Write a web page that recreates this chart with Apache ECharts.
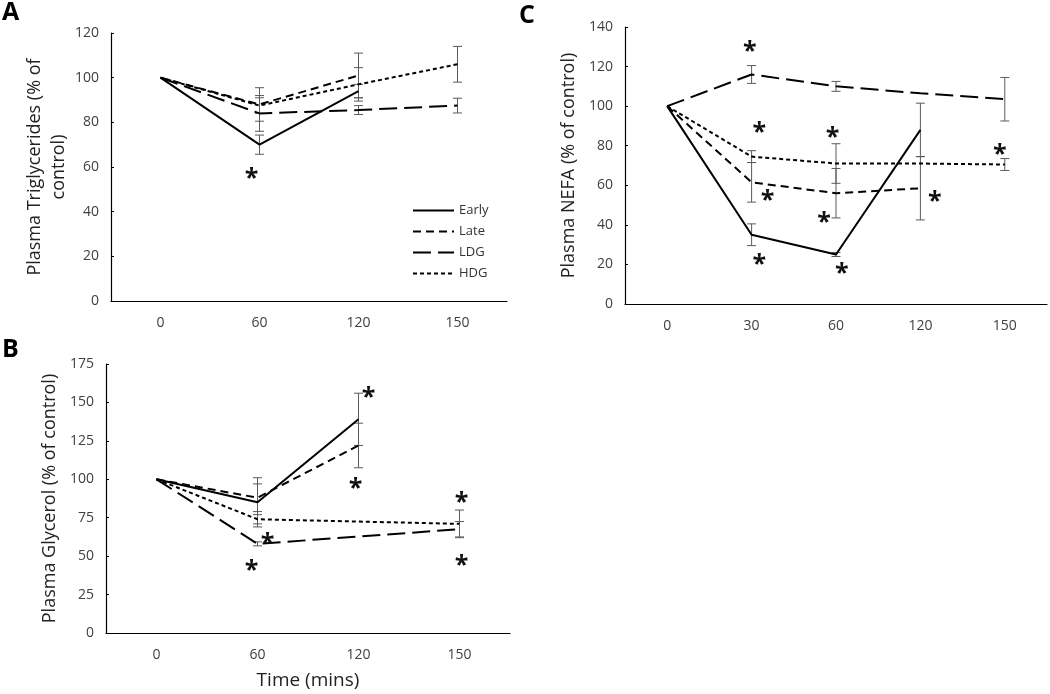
<!DOCTYPE html>
<html><head><meta charset="utf-8">
<script src="https://cdn.jsdelivr.net/npm/echarts@6/dist/echarts.min.js"></script>
<style>html,body{margin:0;background:#fff}#c{width:1050px;height:694px}</style>
</head><body><div id="c"></div>
<script>
// ---------- DATA ----------
const seriesNames = ['Early', 'Late', 'LDG', 'HDG'];

// Panel A: Plasma Triglycerides
const catsA = ['0', '60', '120', '150'];
const trigEarly = [100, 70, 94, null];
const trigLate  = [100, 88, 101, null];
const trigLDG   = [100, 84, 85.5, 87.5];
const trigHDG   = [100, 87.5, 97, 106];
const trigEarlyErr = [null, 4.3, 3, null];
const trigLateErr  = [null, 7.5, 10, null];
const trigLDGErr   = [null, 8, 2, 3.3];
const trigHDGErr   = [null, 3.5, 7.5, 8];
const trigStars = [[0.92, 57]];

// Panel B: Plasma Glycerol
const catsB = ['0', '60', '120', '150'];
const glyEarly = [100, 85, 139, null];
const glyLate  = [100, 88, 122, null];
const glyLDG   = [100, 58, null, 67.5];
const glyHDG   = [100, 74, null, 71];
const glyEarlyErr = [null, 16, 17, null];
const glyLateErr  = [null, 9, 14.5, null];
const glyLDGErr   = [null, 1.3, null, 5];
const glyHDGErr   = [null, 3, null, 9];
const glyStars = [[2.10, 156], [1.97, 97], [3.02, 88], [3.02, 47], [1.10, 61], [0.94, 43.6]];

// Panel C: Plasma NEFA
const catsC = ['0', '30', '60', '120', '150'];
const nefaEarly = [100, 35, 25, 88, null];
const nefaLate  = [100, 61.5, 56, 58.5, null];
const nefaLDG   = [100, 116, 110, 106.5, 103.5];
const nefaHDG   = [100, 74.5, 71, 71, 70.5];
const nefaEarlyErr = [null, 5.5, 1, 13.5, null];
const nefaLateErr  = [null, 10, 12.5, 16, null];
const nefaLDGErr   = [null, 4.5, 2.5, null, 11];
const nefaHDGErr   = [null, 3, 10, null, 3];
const nefaStars = [[0.98, 130.2], [1.09, 88.9], [1.96, 86.4], [1.19, 54.4], [1.86, 43.4],
                   [1.09, 22.4], [2.07, 17.7], [3.17, 54.1], [3.94, 78]];

// ---------- STYLES ----------
const FONT = 'Open Sans';
const dashes = { Early: 'solid', Late: [8, 5], LDG: [18, 7], HDG: [4, 3] };

const panels = [
  { cats: catsA, vals: [trigEarly, trigLate, trigLDG, trigHDG], errs: [trigEarlyErr, trigLateErr, trigLDGErr, trigHDGErr],
    stars: trigStars, yMax: 120, yInt: 20, grid: { left: 111, top: 33, width: 396, height: 268 },
    yName: 'Plasma Triglycerides (% of\ncontrol)', yGap: 40, xName: '' },
  { cats: catsB, vals: [glyEarly, glyLate, glyLDG, glyHDG], errs: [glyEarlyErr, glyLateErr, glyLDGErr, glyHDGErr],
    stars: glyStars, yMax: 175, yInt: 25, grid: { left: 106, top: 364, width: 404, height: 269 },
    yName: 'Plasma Glycerol (% of control)', yGap: 44, xName: 'Time (mins)' },
  { cats: catsC, vals: [nefaEarly, nefaLate, nefaLDG, nefaHDG], errs: [nefaEarlyErr, nefaLateErr, nefaLDGErr, nefaHDGErr],
    stars: nefaStars, yMax: 140, yInt: 20, grid: { left: 625, top: 27, width: 422, height: 277 },
    yName: 'Plasma NEFA (% of control)', yGap: 44, xName: '' }
];

const grids = [], xAxes = [], yAxes = [], series = [];

function errRender(params, api) {
  const x = api.value(0), lo = api.value(1), hi = api.value(2);
  const a = api.coord([x, lo]), b = api.coord([x, hi]);
  const w = 4.5;
  const st = { stroke: '#5a5a5a', lineWidth: 1 };
  return { type: 'group', children: [
    { type: 'line', shape: { x1: a[0], y1: a[1], x2: b[0], y2: b[1] }, style: st },
    { type: 'line', shape: { x1: a[0] - w, y1: a[1], x2: a[0] + w, y2: a[1] }, style: st },
    { type: 'line', shape: { x1: b[0] - w, y1: b[1], x2: b[0] + w, y2: b[1] }, style: st }
  ]};
}
function starRender(params, api) {
  const p = api.coord([api.value(0), api.value(1)]);
  return { type: 'text', x: p[0], y: p[1] + 5,
    style: { text: '*', fontSize: 25, fontWeight: 'bold', fontFamily: FONT, fill: '#111', align: 'center', verticalAlign: 'middle' } };
}

panels.forEach((p, g) => {
  grids.push(p.grid);
  xAxes.push({
    type: 'category', gridIndex: g, data: p.cats, boundaryGap: true,
    axisLine: { onZero: false, lineStyle: { color: '#000', width: 1.2 } },
    axisTick: { inside: true, length: 5, lineStyle: { color: '#000' } },
    axisLabel: { color: '#404040', fontSize: 14, fontFamily: FONT, margin: 15 },
    splitLine: { show: false },
    name: p.xName, nameLocation: 'middle', nameGap: 38,
    nameTextStyle: { color: '#222', fontSize: 19, fontFamily: FONT }
  });
  xAxes.push({ type: 'value', gridIndex: g, min: -0.5, max: p.cats.length - 0.5, show: false });
  yAxes.push({
    type: 'value', gridIndex: g, min: 0, max: p.yMax, interval: p.yInt,
    axisLine: { show: true, onZero: false, lineStyle: { color: '#000', width: 1.2 } },
    axisTick: { show: true, inside: true, length: 3, lineStyle: { color: '#000' } },
    axisLabel: { color: '#404040', fontSize: 14, fontFamily: FONT, margin: 12 },
    splitLine: { show: false },
    name: p.yName, nameLocation: 'middle', nameRotate: 90, nameGap: p.yGap,
    nameTextStyle: { color: '#222', fontSize: 18, fontFamily: FONT, lineHeight: 24 }
  });
  const xi = 2 * g + 1;
  seriesNames.forEach((nm, s) => {
    const pts = [];
    p.vals[s].forEach((v, i) => { if (v != null) pts.push([i, v]); });
    series.push({
      name: nm, type: 'line', xAxisIndex: xi, yAxisIndex: g, data: pts,
      symbol: 'none', connectNulls: true, silent: true,
      lineStyle: { color: '#000', width: 2, type: dashes[nm] },
      itemStyle: { color: '#000' }, z: 3
    });
    const eb = [];
    p.errs[s].forEach((e, i) => { if (e != null && p.vals[s][i] != null) eb.push([i, p.vals[s][i] - e, p.vals[s][i] + e]); });
    series.push({
      type: 'custom', xAxisIndex: xi, yAxisIndex: g, data: eb, renderItem: errRender, silent: true, z: 2
    });
  });
  series.push({ type: 'custom', xAxisIndex: xi, yAxisIndex: g, data: p.stars, renderItem: starRender, silent: true, z: 4 });
});

const chart = echarts.init(document.getElementById('c'), null, { renderer: 'canvas' });
chart.setOption({
  animation: false,
  backgroundColor: '#fff',
  textStyle: { fontFamily: FONT },
  grid: grids, xAxis: xAxes, yAxis: yAxes, series: series,
  legend: {
    data: seriesNames, orient: 'vertical', left: 407, top: 199,
    itemWidth: 41, itemHeight: 12, itemGap: 8,
    itemStyle: { opacity: 0 },
    textStyle: { color: '#333', fontSize: 13, fontFamily: FONT }
  },
  graphic: [
    { type: 'text', left: 2, top: 0, style: { text: 'A', fontSize: 25, fontWeight: 'bold', fontFamily: FONT, fill: '#000' } },
    { type: 'text', left: 2, top: 337, style: { text: 'B', fontSize: 25, fontWeight: 'bold', fontFamily: FONT, fill: '#000' } },
    { type: 'text', left: 519, top: 3, style: { text: 'C', fontSize: 25, fontWeight: 'bold', fontFamily: FONT, fill: '#000' } }
  ]
});
</script></body></html>
